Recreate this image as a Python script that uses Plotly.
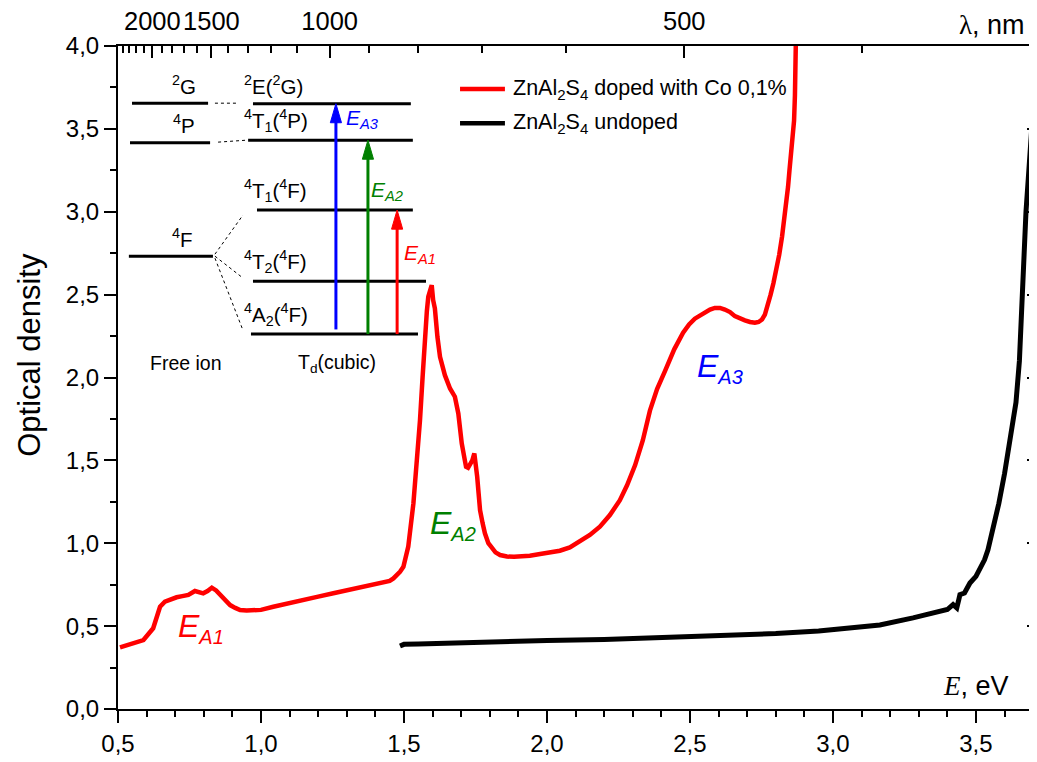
import plotly.graph_objects as go

# ---------------- data ----------------
doped_E = [0.507, 0.54, 0.589, 0.623, 0.647, 0.664, 0.685, 0.705, 0.725, 0.746, 0.769, 0.783, 0.798, 0.813,
           0.828, 0.843, 0.857, 0.875, 0.892, 0.91, 0.927, 0.95, 0.973, 1.0, 1.043, 1.09, 1.136, 1.2, 1.253,
           1.31, 1.37, 1.4, 1.428, 1.45, 1.463, 1.475, 1.486, 1.498, 1.515, 1.533, 1.545, 1.556, 1.565,
           1.573, 1.58, 1.585, 1.592, 1.597, 1.602, 1.608, 1.617, 1.626, 1.643, 1.661, 1.678, 1.69, 1.702,
           1.71, 1.717, 1.724, 1.731, 1.739, 1.746, 1.751, 1.756, 1.761, 1.766, 1.775, 1.783, 1.795, 1.807,
           1.82, 1.836, 1.86, 1.885, 1.906, 1.94, 1.976, 2.01, 2.045, 2.08, 2.115, 2.15, 2.185, 2.22, 2.255,
           2.28, 2.308, 2.335, 2.36, 2.385, 2.413, 2.445, 2.476, 2.497, 2.517, 2.535, 2.552, 2.57, 2.587,
           2.605, 2.622, 2.64, 2.657, 2.675, 2.692, 2.71, 2.727, 2.74, 2.752, 2.762, 2.772, 2.782, 2.792,
           2.802, 2.812, 2.822, 2.83, 2.837, 2.843, 2.848, 2.853, 2.857, 2.86, 2.864, 2.867, 2.869, 2.872]
doped_OD = [0.372, 0.39, 0.416, 0.487, 0.617, 0.647, 0.664, 0.674, 0.681, 0.688, 0.712, 0.708, 0.698, 0.712,
            0.732, 0.715, 0.688, 0.655, 0.627, 0.61, 0.597, 0.594, 0.593, 0.598, 0.617, 0.637, 0.657, 0.678,
            0.698, 0.718, 0.738, 0.75, 0.762, 0.773, 0.788, 0.805, 0.828, 0.858, 0.98, 1.241, 1.47, 1.743,
            2.0, 2.245, 2.4, 2.487, 2.54, 2.557, 2.467, 2.417, 2.245, 2.125, 2.014, 1.934, 1.884, 1.783,
            1.602, 1.52, 1.461, 1.455, 1.472, 1.5, 1.542, 1.48, 1.401, 1.3, 1.2, 1.12, 1.06, 1.0, 0.969, 0.945,
            0.929, 0.92, 0.918, 0.919, 0.925, 0.935, 0.945, 0.955, 0.975, 1.009, 1.05, 1.1, 1.17, 1.26, 1.35,
            1.47, 1.62, 1.8, 1.93, 2.04, 2.17, 2.27, 2.32, 2.355, 2.375, 2.395, 2.41, 2.42, 2.42, 2.41, 2.395,
            2.37, 2.355, 2.345, 2.335, 2.33, 2.335, 2.35, 2.38, 2.43, 2.5, 2.57, 2.65, 2.74, 2.85, 2.95, 3.06,
            3.15, 3.25, 3.34, 3.42, 3.45, 3.55, 3.7, 3.85, 4.2]

undoped_E = [1.486, 1.5, 1.55, 1.65, 1.75, 1.85, 2.0, 2.2, 2.4, 2.6, 2.8, 2.95, 3.05, 3.164, 3.28, 3.35, 3.4,
             3.42, 3.433, 3.44, 3.444, 3.46, 3.479, 3.5, 3.514, 3.53, 3.542, 3.56, 3.58, 3.6, 3.62, 3.64, 3.652,
             3.66, 3.667, 3.675, 3.683, 3.69, 3.695, 3.699]
undoped_OD = [0.38, 0.39, 0.392, 0.398, 0.403, 0.407, 0.413, 0.42, 0.43, 0.44, 0.455, 0.47, 0.49, 0.507, 0.55,
              0.58, 0.6, 0.63, 0.61, 0.66, 0.69, 0.7, 0.76, 0.8, 0.84, 0.9, 0.96, 1.08, 1.24, 1.42, 1.62, 1.85,
              2.1, 2.45, 2.77, 3.0, 3.2, 3.4, 3.52, 3.6]

x_ticks = [0.5, 1.0, 1.5, 2.0, 2.5, 3.0, 3.5]
x_ticktext = ["0,5", "1,0", "1,5", "2,0", "2,5", "3,0", "3,5"]
y_ticks = [0.0, 0.5, 1.0, 1.5, 2.0, 2.5, 3.0, 3.5, 4.0]
y_ticktext = ["0,0", "0,5", "1,0", "1,5", "2,0", "2,5", "3,0", "3,5", "4,0"]
wl_major = [2000, 1500, 1000, 500]
wl_minor = [2400, 2300, 2200, 2100, 1900, 1800, 1700, 1600, 1400, 1300, 1200, 1100, 900, 800, 700, 600, 400]

series_names = ["ZnAl<sub>2</sub>S<sub>4</sub> doped with Co 0,1%", "ZnAl<sub>2</sub>S<sub>4</sub> undoped"]
series_colors = ["#FF0000", "#000000"]

# energy-level diagram (in axis units): label, x0, x1, energy, label x
free_levels = [("<sup>2</sup>G", 0.549, 0.815, 3.655, 0.73), ("<sup>4</sup>P", 0.542, 0.822, 3.417, 0.73),
               ("<sup>4</sup>F", 0.538, 0.832, 2.732, 0.725)]
td_levels = [("<sup>2</sup>E(<sup>2</sup>G)", 0.972, 1.524, 3.652),
             ("<sup>4</sup>T<sub>1</sub>(<sup>4</sup>P)", 0.955, 1.531, 3.432),
             ("<sup>4</sup>T<sub>1</sub>(<sup>4</sup>F)", 0.986, 1.531, 3.010),
             ("<sup>4</sup>T<sub>2</sub>(<sup>4</sup>F)", 0.972, 1.577, 2.581),
             ("<sup>4</sup>A<sub>2</sub>(<sup>4</sup>F)", 0.965, 1.549, 2.262)]
connectors = [(0.839, 3.655, 0.916, 3.655), (0.85, 3.42, 0.951, 3.432), (0.839, 2.744, 0.937, 2.98),
              (0.839, 2.732, 0.937, 2.60), (0.839, 2.72, 0.934, 2.298)]
arrows = [("A3", "#0000FF", 1.262, 2.29, 3.652), ("A2", "#008000", 1.374, 2.262, 3.432),
          ("A1", "#FF0000", 1.476, 2.262, 3.010)]

FONT = "Arial, Liberation Sans, sans-serif"

fig = go.Figure()
fig.add_trace(go.Scatter(x=doped_E, y=doped_OD, mode="lines", line=dict(color=series_colors[0], width=4.5),
                         name=series_names[0], showlegend=False))
fig.add_trace(go.Scatter(x=undoped_E, y=undoped_OD, mode="lines", line=dict(color=series_colors[1], width=5),
                         name=series_names[1], showlegend=False))
# invisible trace for secondary axes
fig.add_trace(go.Scatter(x=[1.0], y=[1.0], xaxis="x2", yaxis="y2", mode="markers",
                         marker=dict(opacity=0), showlegend=False, hoverinfo="skip"))

shapes = []
ann = []

for lab, x0, x1, y, xl in free_levels:
    shapes.append(dict(type="line", x0=x0, x1=x1, y0=y, y1=y, line=dict(color="black", width=3)))
    ann.append(dict(x=xl, y=y + 0.02, text=lab, showarrow=False, xanchor="center", yanchor="bottom",
                    font=dict(size=20.5, color="black", family=FONT)))
for lab, x0, x1, y in td_levels:
    shapes.append(dict(type="line", x0=x0, x1=x1, y0=y, y1=y, line=dict(color="black", width=3)))
    ann.append(dict(x=0.932, y=y + 0.02, text=lab, showarrow=False, xanchor="left", yanchor="bottom",
                    font=dict(size=20.5, color="black", family=FONT)))
for x0, y0, x1, y1 in connectors:
    shapes.append(dict(type="line", x0=x0, x1=x1, y0=y0, y1=y1, line=dict(color="black", width=1, dash="dot")))

hw, hl = 0.0195, 0.115
for sub, col, x, yb, yt in arrows:
    shapes.append(dict(type="line", x0=x, x1=x, y0=yb, y1=yt - hl * 0.6, line=dict(color=col, width=3)))
    shapes.append(dict(type="path", path=f"M {x - hw},{yt - hl} L {x},{yt} L {x + hw},{yt - hl} Z",
                       fillcolor=col, line=dict(color=col, width=1)))

ann.append(dict(x=1.29, y=3.56, text="<i>E<sub>A3</sub></i>", showarrow=False, xanchor="left", yanchor="middle",
                font=dict(size=21, color="#0000FF", family=FONT)))
ann.append(dict(x=1.378, y=3.125, text="<i>E<sub>A2</sub></i>", showarrow=False, xanchor="left", yanchor="middle",
                font=dict(size=21, color="#008000", family=FONT)))
ann.append(dict(x=1.492, y=2.745, text="<i>E<sub>A1</sub></i>", showarrow=False, xanchor="left", yanchor="middle",
                font=dict(size=21, color="#FF0000", family=FONT)))
ann.append(dict(x=0.738, y=2.087, text="Free ion", showarrow=False, xanchor="center", yanchor="middle",
                font=dict(size=19.5, color="black", family=FONT)))
ann.append(dict(x=1.266, y=2.087, text="T<sub>d</sub>(cubic)", showarrow=False, xanchor="center", yanchor="middle",
                font=dict(size=19.5, color="black", family=FONT)))

# big band labels
big = [("A1", "#FF0000", 0.703, 0.49), ("A2", "#008000", 1.585, 1.11), ("A3", "#0000FF", 2.518, 2.06)]
for sub, col, x, y in big:
    ann.append(dict(x=x, y=y, text=f"<i>E<sub><span style='font-size:20px'>{sub}</span></sub></i>",
                    showarrow=False, xanchor="left", yanchor="middle",
                    font=dict(size=32, color=col, family=FONT)))

# legend (manual)
for i, (name, col) in enumerate(zip(series_names, series_colors)):
    yl = 3.74 - i * 0.206
    shapes.append(dict(type="line", x0=1.696, x1=1.853, y0=yl, y1=yl, line=dict(color=col, width=4.5)))
    ann.append(dict(x=1.873, y=yl, text=name, showarrow=False, xanchor="left", yanchor="middle",
                    font=dict(size=21.5, color="black", family=FONT)))

# axis titles
ann.append(dict(xref="paper", yref="paper", x=-0.096, y=0.534, text="Optical density", textangle=-90,
                showarrow=False, xanchor="center", yanchor="middle", font=dict(size=31, color="black", family=FONT)))
ann.append(dict(xref="paper", yref="paper", x=0.99, y=1.0, yshift=4,
                text="<span style='font-family:Liberation Serif'>λ</span>, nm",
                showarrow=False, xanchor="right", yanchor="bottom", font=dict(size=27, color="black", family=FONT)))
ann.append(dict(xref="paper", yref="paper", x=0.973, y=0.035,
                text="<span style='font-family:Liberation Serif'><i>E</i></span>, eV",
                showarrow=False, xanchor="right", yanchor="middle", font=dict(size=27, color="black", family=FONT)))

XR = [0.5, 3.71]
# page body has an 8px margin: figure is sized so the plot area lands where the reference has it
fig.update_layout(
    width=1029, height=754,
    margin=dict(l=110, r=1, t=38, b=53, autoexpand=False),
    paper_bgcolor="white", plot_bgcolor="white",
    font=dict(family=FONT, color="black"),
    shapes=shapes, annotations=ann,
    xaxis=dict(range=XR, tickvals=x_ticks, ticktext=x_ticktext, ticks="outside", ticklen=12, tickwidth=2,
               tickcolor="black", showline=True, linewidth=2, linecolor="black", showgrid=False, zeroline=False,
               tickangle=0, automargin=False,
               tickfont=dict(size=24), minor=dict(dtick=0.1, tick0=0.5, ticks="outside", ticklen=6, tickwidth=2,
                                                   tickcolor="black")),
    yaxis=dict(range=[0, 4], tickvals=y_ticks, ticktext=y_ticktext, ticks="outside", ticklen=12, tickwidth=2,
               tickcolor="black", showline=True, linewidth=2, linecolor="black", showgrid=False, zeroline=False,
               automargin=False,
               tickfont=dict(size=24), minor=dict(dtick=0.25, tick0=0, ticks="outside", ticklen=6, tickwidth=2,
                                                  tickcolor="black")),
    xaxis2=dict(overlaying="x", side="top", anchor="y", range=XR,
                tickvals=[1240.0 / w for w in wl_major], ticktext=[str(w) for w in wl_major],
                ticks="inside", ticklen=12, tickwidth=2, tickcolor="black", showline=True, linewidth=2,
                linecolor="black", showgrid=False, zeroline=False, tickfont=dict(size=25.5), ticklabelstandoff=4,
                tickangle=0, automargin=False,
                minor=dict(tickvals=[1240.0 / w for w in wl_minor], ticks="inside", ticklen=7, tickwidth=2,
                           tickcolor="black")),
    yaxis2=dict(overlaying="y", side="right", anchor="x", range=[0, 4], tickvals=y_ticks, showticklabels=False,
                ticks="inside", ticklen=9, tickwidth=2, tickcolor="black", showline=True, linewidth=2,
                linecolor="black", showgrid=False, zeroline=False, automargin=False,
                minor=dict(dtick=0.25, tick0=0, ticks="inside", ticklen=5, tickwidth=2, tickcolor="black")),
)

fig.write_html("out.html")
